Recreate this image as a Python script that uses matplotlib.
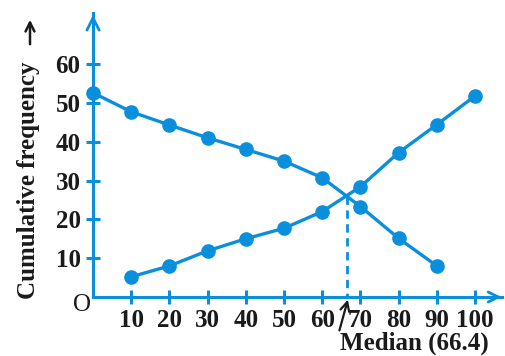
import matplotlib
matplotlib.use("Agg")
import matplotlib.pyplot as plt

# ---- data ----
x_more = [0, 10, 20, 30, 40, 50, 60, 70, 80, 90]
y_more = [52.6, 47.7, 44.3, 41.0, 38.0, 35.0, 30.7, 23.3, 15.1, 8.0]
x_less = [10, 20, 30, 40, 50, 60, 70, 80, 90, 100]
y_less = [5.2, 8.0, 11.9, 15.0, 17.7, 22.0, 28.4, 37.2, 44.4, 51.8]
x_ticks = [10, 20, 30, 40, 50, 60, 70, 80, 90, 100]
y_ticks = [10, 20, 30, 40, 50, 60]
median_x = 66.4
median_y = 26.0

blue = "#0a8fdc"
ink = "#1a1a1a"
serif = ["Liberation Serif", "DejaVu Serif"]

fig = plt.figure(figsize=(5.06, 3.56), dpi=100)
ax = fig.add_axes([0, 0, 1, 1])
ax.set_xlim(-24.35, 108.1)
ax.set_ylim(-15.2, 76.5)
ax.patch.set_alpha(0)

for s in ["top", "right"]:
    ax.spines[s].set_visible(False)
ax.spines["left"].set_position(("data", 0))
ax.spines["bottom"].set_position(("data", 0))
ax.spines["left"].set_bounds(0, 73.2)
ax.spines["bottom"].set_bounds(0, 107.0)
for s in ["left", "bottom"]:
    ax.spines[s].set_color(blue)
    ax.spines[s].set_linewidth(2.2)

ax.set_xticks(x_ticks)
ax.set_yticks(y_ticks)
ax.set_xticklabels([str(v) for v in x_ticks])
ax.set_yticklabels([str(v) for v in y_ticks])
ax.tick_params(direction="inout", length=10, width=2.2, color=blue, pad=4)
for lab in ax.get_xticklabels() + ax.get_yticklabels():
    lab.set_family(serif)
    lab.set_fontweight("bold")
    lab.set_fontsize(18)
    lab.set_color(ink)

# axis arrowheads
ax.annotate("", xy=(0, 73.4), xytext=(0, 70), arrowprops=dict(arrowstyle="->", color=blue, lw=2.0, mutation_scale=22))
ax.annotate("", xy=(107.6, 0), xytext=(104, 0), arrowprops=dict(arrowstyle="->", color=blue, lw=2.0, mutation_scale=18))

ax.plot(x_more, y_more, color=blue, lw=2.4, marker="o", ms=9.5, zorder=3, clip_on=False)
ax.plot(x_less, y_less, color=blue, lw=2.4, marker="o", ms=9.5, zorder=3, clip_on=False)

ax.plot([median_x, median_x], [median_y, 0], color=blue, lw=2.0, ls=(0, (3, 2)), zorder=2)

ax.annotate("", xy=(median_x + 0.5, 0), xytext=(64.3, -9.3),
            arrowprops=dict(arrowstyle="->", color=ink, lw=1.6, mutation_scale=16))
ax.text(84.0, -11.9, "Median (66.4)", ha="center", va="center", family=serif,
        fontweight="bold", fontsize=18, color=ink)
ax.text(-2.8, -2.0, "O", ha="center", va="center", family=serif, fontsize=18, color=ink)

fig.text(29 / 506, 1 - 180 / 356, "Cumulative frequency", rotation=90, ha="center", va="center",
         family=serif, fontweight="bold", fontsize=18, color=ink)
fig.add_artist(plt.matplotlib.patches.FancyArrowPatch(
    (30 / 506, 1 - 47 / 356), (30 / 506, 1 - 17 / 356), transform=fig.transFigure,
    arrowstyle="->", mutation_scale=16, lw=1.8, color=ink))

fig.savefig("out.png", dpi=100)
